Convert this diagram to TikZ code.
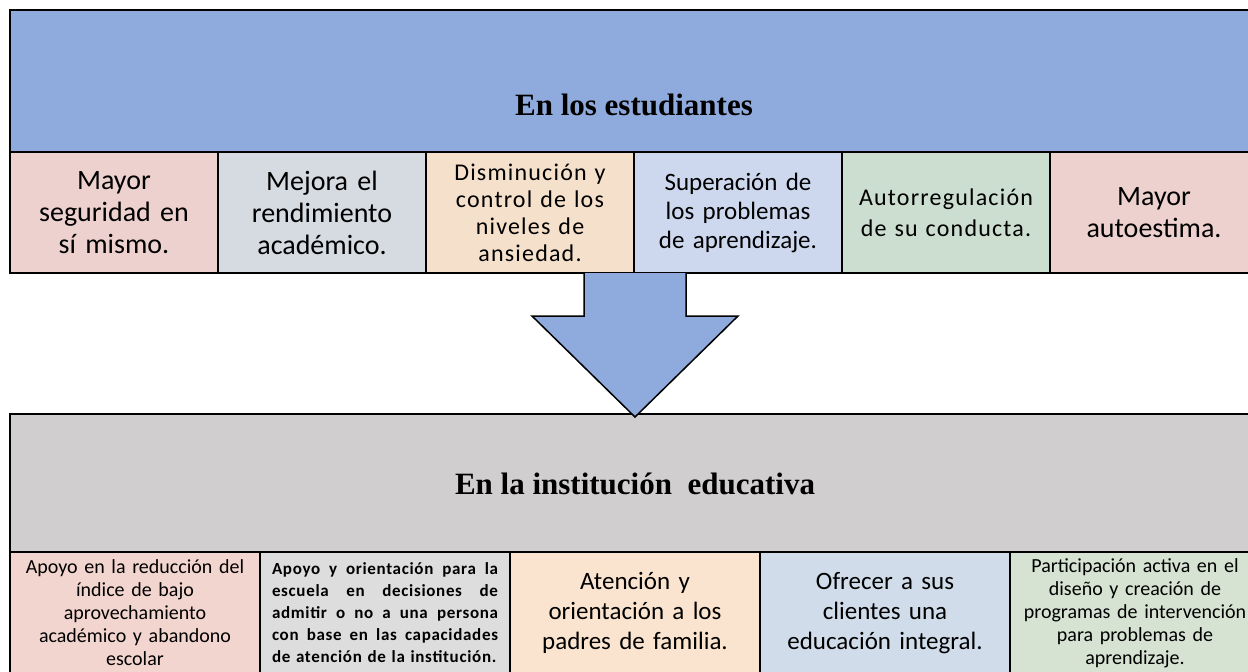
\documentclass[tikz,border=0pt]{standalone}
\usepackage{fontspec}
\setmainfont{Carlito}
\newfontfamily\headfont{Liberation Serif}
\usetikzlibrary{positioning}
\usetikzlibrary{calc}
\definecolor{hdrblue}{RGB}{143, 170, 220}
\definecolor{hdrgray}{RGB}{208, 206, 206}
\definecolor{cpink}{RGB}{237, 209, 206}
\definecolor{cgray}{RGB}{214, 218, 225}
\definecolor{cpeach}{RGB}{245, 224, 204}
\definecolor{cblue}{RGB}{205, 216, 238}
\definecolor{cgreen}{RGB}{204, 222, 208}
\definecolor{bpink}{RGB}{243, 213, 207}
\definecolor{bgray}{RGB}{221, 221, 221}
\definecolor{bpeach}{RGB}{251, 228, 207}
\definecolor{bblue}{RGB}{208, 220, 234}
\definecolor{bgreen}{RGB}{214, 226, 210}
\newcommand{\jline}[1]{\leavevmode\hbox to 226pt{\spaceskip = 0.3em plus 1fil\relax #1}}
\tikzset{box/.style = {draw, line width = 2pt, outer sep = 0pt, inner ysep = 0pt, inner xsep = 4pt},
         hdr/.style = {box, anchor = north west},
         title/.style = {font = \headfont\bfseries\fontsize{31}{36}\selectfont},
         topcell/.style = {box, text width = 200pt, minimum height = 121pt, align = center},
         botcell/.style = {box, text width = 242pt, minimum height = 122pt, align = center},
         wide/.style 2 args = {font = \fontsize{#1}{#2}\selectfont\addfontfeature{LetterSpace = 5}}}

\begin{document}
\begin{tikzpicture}[x = 1pt, y = -1pt]
      \useasboundingbox (0, 0) rectangle (1248, 672);
      \clip (0, 0) rectangle (1248, 672);
      \node (studhdr) [hdr, fill = hdrblue, minimum width = 1248pt, minimum height = 142pt] at (10, 10) {};
      \node (studtitle) [title, anchor = base] at ($(studhdr.center) + (0, 34)$) {En los estudiantes};
      \node (s1) [topcell, fill = cpink, anchor = north west, font = \fontsize{28}{32}\selectfont] at (10, 152) {Mayor\\seguridad en\\sí mismo.};
      \node (s2) [topcell, fill = cgray, right = 0pt of s1, font = \fontsize{28}{32}\selectfont] {Mejora el\\rendimiento\\académico.};
      \node (s3) [topcell, fill = cpeach, right = 0pt of s2, wide = {24}{27}] {Disminución y\\control de los\\niveles de\\ansiedad.};
      \node (s4) [topcell, fill = cblue, right = 0pt of s3, font = \fontsize{25}{29}\selectfont] {Superación de\\los problemas\\de aprendizaje.};
      \node (s5) [topcell, fill = cgreen, right = 0pt of s4, wide = {24}{31}] {Autorregulación\\de su conducta.};
      \node (s6) [topcell, fill = cpink, right = 0pt of s5, font = \fontsize{28}{32}\selectfont] {Mayor\\autoestima.};
      \node (insthdr) [hdr, fill = hdrgray, minimum width = 1250pt, minimum height = 138pt] at (10, 414) {};
      \node (insttitle) [title, anchor = base] at ($(insthdr.center) + (0, 11)$) {En la institución\ \ educativa};
      \node (b1) [botcell, fill = bpink, anchor = north west, font = \fontsize{20}{23}\selectfont] at (10, 552) {Apoyo en la reducción del\\índice de bajo\\aprovechamiento\\académico y abandono\\escolar};
      \node (b2) [botcell, fill = bgray, right = 0pt of b1, font = \bfseries\fontsize{17}{22}\selectfont\addfontfeature{LetterSpace = 4}] {\jline{Apoyo y orientación para la}\\\jline{escuela en decisiones de}\\\jline{admitir o no a una persona}\\\jline{con base en las capacidades}\\\makebox[226pt][l]{de atención de la institución.}};
      \node (b3) [botcell, fill = bpeach, right = 0pt of b2, font = \fontsize{25}{30}\selectfont] {Atención y\\orientación a los\\padres de familia.};
      \node (b4) [botcell, fill = bblue, right = 0pt of b3, font = \fontsize{25}{30}\selectfont] {Ofrecer a sus\\clientes una\\educación integral.};
      \node (b5) [botcell, fill = bgreen, right = 0pt of b4, font = \fontsize{20}{23}\selectfont] {Participación activa en el\\diseño y creación de\\programas de intervención\\para problemas de\\aprendizaje.};
      \coordinate (arrtop) at ($(s3.south east) + (1, 0)$);
      \coordinate (arrtip) at ($(insthdr.north) + (0, 3)$);
      \draw [line width = 1.5pt, fill = hdrblue] ($(arrtop) + (-51, 0)$) -- ($(arrtop) + (-51, 43)$) -- ($(arrtop) + (-103, 43)$) -- (arrtip) -- ($(arrtop) + (103, 43)$) -- ($(arrtop) + (51, 43)$) -- ($(arrtop) + (51, 0)$);
    \end{tikzpicture}
\end{document}
